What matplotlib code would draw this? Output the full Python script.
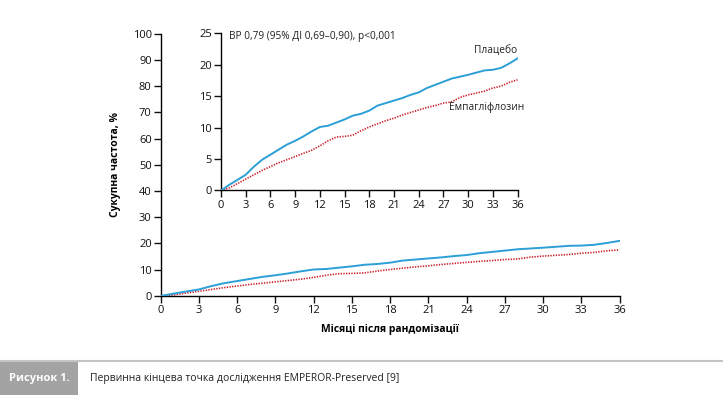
import matplotlib.pyplot as plt
import matplotlib.patches as patches
from matplotlib.lines import Line2D

plt.rcParams['font.family'] = ['Open Sans', 'DejaVu Sans']

# cumulative incidence, %
months = list(range(0, 37))
placebo = [0.0, 0.9, 1.7, 2.5, 3.8, 4.9, 5.7, 6.5, 7.3, 7.9, 8.6, 9.4, 10.1,
           10.3, 10.8, 11.3, 11.9, 12.2, 12.7, 13.5, 13.9, 14.3, 14.7, 15.2,
           15.6, 16.3, 16.8, 17.3, 17.8, 18.1, 18.4, 18.75, 19.1, 19.2, 19.5,
           20.2, 21.0]
empa = [0.0, 0.4, 1.1, 1.8, 2.5, 3.2, 3.8, 4.4, 4.9, 5.4, 5.9, 6.4, 7.1,
        7.9, 8.5, 8.6, 8.8, 9.5, 10.1, 10.6, 11.1, 11.5, 12.0, 12.4, 12.8,
        13.2, 13.5, 13.9, 14.1, 14.8, 15.2, 15.5, 15.8, 16.3, 16.6, 17.2,
        17.6]

xticks = list(range(0, 37, 3))
main_yticks = list(range(0, 101, 10))
inset_yticks = list(range(0, 26, 5))

blue = '#2b9fd6'
red = '#cc1f2d'
fs = 8


def style(ax):
    ax.spines['top'].set_visible(False)
    ax.spines['right'].set_visible(False)
    ax.spines['left'].set_linewidth(1.0)
    ax.spines['bottom'].set_linewidth(1.0)
    ax.tick_params(length=5, width=1.0, labelsize=fs, pad=1.5, colors='#111111')
    ax.set_xlim(0, 36)
    ax.set_xticks(xticks)


fig = plt.figure(figsize=(7.23, 3.98), dpi=100, facecolor='white')

ax = fig.add_axes([0.2223, 0.2563, 0.6346, 0.6595])
style(ax)
ax.set_ylim(0, 100)
ax.set_yticks(main_yticks)
ax.plot(months, placebo, color=blue, lw=1.4, zorder=3)
ax.plot(months, empa, color=red, lw=1.2, ls=(0, (0.8, 0.8)), zorder=2)
ax.set_xlabel('Місяці після рандомізації', fontsize=7.5, fontweight='bold',
              labelpad=6)
ax.set_ylabel('Сукупна частота, %', fontsize=7.5, fontweight='bold',
              labelpad=8)

ins = fig.add_axes([0.3057, 0.5214, 0.4101, 0.3949])
style(ins)
ins.set_ylim(0, 25)
ins.set_yticks(inset_yticks)
ins.plot(months, placebo, color=blue, lw=1.4, zorder=3)
ins.plot(months, empa, color=red, lw=1.2, ls=(0, (0.8, 0.8)), zorder=2)
ins.text(1.0, 24.5, 'ВР 0,79 (95% ДІ 0,69–0,90), p<0,001', fontsize=7.3,
         ha='left', va='center', color='#222222')
ins.text(36, 22.3, 'Плацебо', fontsize=7.3, ha='right', va='center',
         color='#222222')
ins.text(36.8, 13.2, 'Емпагліфлозин', fontsize=7.3, ha='right', va='center',
         color='#222222')

# caption bar
fig.add_artist(Line2D([0, 1], [1 - 361 / 398, 1 - 361 / 398],
                      transform=fig.transFigure, color='#c4c4c4', lw=1.5))
fig.add_artist(patches.Rectangle((0, 1 - 395 / 398), 78 / 723, 33 / 398,
                                 transform=fig.transFigure, fc='#a3a3a3',
                                 ec='none'))
fig.text(39 / 723, 1 - 379 / 398, 'Рисунок 1.', fontsize=8,
         fontweight='bold', color='white', ha='center', va='center',
         family=['Liberation Sans Narrow', 'Open Sans'])
fig.text(90 / 723, 1 - 379 / 398,
         'Первинна кінцева точка дослідження EMPEROR-Preserved [9]',
         fontsize=7.5, color='#222222', ha='left', va='center',
         family=['Liberation Sans Narrow', 'Open Sans'])

fig.savefig('out.png', dpi=100, facecolor='white')
